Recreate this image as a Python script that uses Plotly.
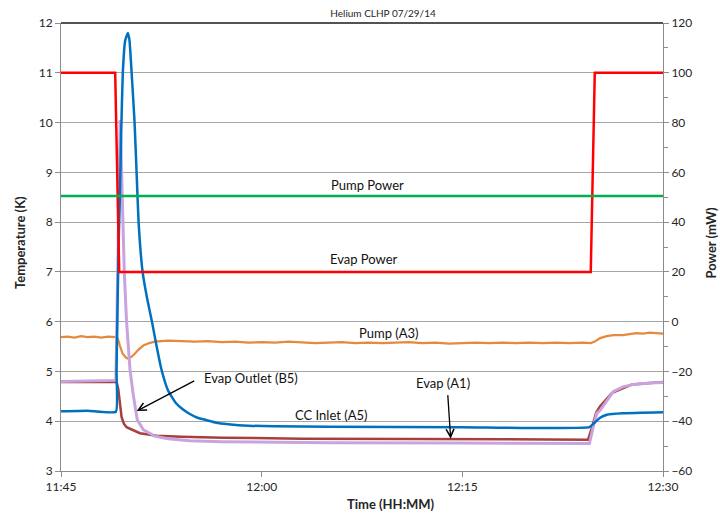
import pandas as pd
import plotly.graph_objects as go

# Run start; every time array below is in minutes after this moment
BASE = pd.Timestamp("2014-07-29 11:45:00")

# Heater powers (mW, right axis)
evap_power_t = [0, 4.05, 4.35, 39.6, 39.9, 45]
evap_power_v = [100, 100, 20, 20, 100, 100]
pump_power_t = [0, 45]
pump_power_v = [50.5, 50.5]

# Temperatures (K, left axis)
cc_inlet_t = [0, 2, 4.1, 4.15, 4.3, 4.4, 4.5, 4.62, 4.8, 5.0, 5.12, 5.28, 5.5, 5.65,
              5.8, 6.1, 6.45, 6.8, 7.15, 7.5, 8.0, 8.6, 9.1, 9.6, 10.2, 10.9, 11.6,
              12.5, 14, 16, 20, 30, 39.5, 39.8, 40.3, 40.8, 42, 45]
cc_inlet_v = [4.2, 4.21, 4.19, 5.0, 7.5, 8.5, 9.8, 11.0, 11.65, 11.8, 11.65, 11.0, 10.0, 9.0,
              8.0, 7.0, 6.45, 6.0, 5.5, 5.05, 4.62, 4.36, 4.24, 4.15, 4.07, 4.02, 3.97,
              3.94, 3.91, 3.9, 3.89, 3.88, 3.88, 3.95, 4.07, 4.13, 4.16, 4.18]

evap_outlet_t = [0, 4.15, 4.28, 4.4, 4.53, 4.7, 4.9, 5.9, 7.15, 9, 12.1, 18, 24.6,
                 39.4, 39.7, 40.0, 40.3, 41.2, 42.7, 45]
evap_outlet_v = [4.79, 4.79, 4.65, 4.3, 4.08, 3.95, 3.88, 3.76, 3.71, 3.69, 3.67, 3.65, 3.64,
                 3.63, 3.88, 4.17, 4.3, 4.57, 4.74, 4.79]

evap_t = [0, 4.1, 4.15, 4.25, 4.35, 4.42, 4.5, 4.6, 4.73, 4.9, 5.16, 5.4, 5.7, 6.15,
          7, 8, 9.6, 12, 20, 30, 39.5, 39.8, 40.05, 40.3, 40.8, 41.3, 42, 42.8, 44, 45]
evap_v = [4.8, 4.82, 5.5, 7.5, 9.5, 10.05, 9.3, 8.0, 7.0, 6.0, 5.03, 4.53, 4.03, 3.83,
          3.7, 3.65, 3.61, 3.59, 3.57, 3.56, 3.55, 3.9, 4.16, 4.22, 4.42, 4.6, 4.69, 4.74, 4.77, 4.78]

pump_t = [0, 0.5, 1, 1.5, 2, 2.5, 3, 3.5, 4.1,
          4.25, 4.4, 4.6, 4.85, 5.0, 5.2, 5.5, 5.8, 6.15, 6.6,
          7, 7.5, 8,
          9, 10, 11, 12, 13, 14, 15, 16, 17, 18, 19, 20, 21, 22, 23, 24, 25, 26, 27, 28,
          29, 30, 31, 32, 33, 34, 35, 36, 37, 38, 39,
          39.6, 39.9, 40.3, 40.8, 41.3, 42, 42.5, 43, 43.5, 44, 44.5, 45]
pump_v = [5.69, 5.70, 5.68, 5.71, 5.69, 5.70, 5.68, 5.70, 5.69,
          5.66, 5.52, 5.36, 5.28, 5.26, 5.28, 5.35, 5.44, 5.52, 5.57,
          5.60, 5.61, 5.62,
          5.61, 5.60, 5.61, 5.59, 5.60, 5.58, 5.59, 5.58, 5.60, 5.58,
          5.57, 5.58, 5.59, 5.57, 5.58, 5.57, 5.58, 5.59, 5.57, 5.58,
          5.56, 5.57, 5.58, 5.57, 5.58, 5.57, 5.58, 5.57, 5.58, 5.57, 5.58,
          5.57, 5.60, 5.67, 5.71, 5.73, 5.73, 5.75, 5.77, 5.76, 5.78, 5.77, 5.76]

x_ticks_min = [0, 15, 30, 45]


def clock(mins):
    return [BASE + pd.Timedelta(minutes=m) for m in mins]


FONT = "Lato, 'Open Sans', sans-serif"
TXT = "#262626"

fig = go.Figure()

fig.add_trace(go.Scatter(x=clock(evap_power_t), y=evap_power_v, yaxis="y2", mode="lines",
                         line=dict(color="#FF0000", width=2.5), name="Evap Power"))
fig.add_trace(go.Scatter(x=clock(pump_power_t), y=pump_power_v, yaxis="y2", mode="lines",
                         line=dict(color="#00B050", width=2.5), name="Pump Power"))
fig.add_trace(go.Scatter(x=clock(pump_t), y=pump_v, mode="lines",
                         line=dict(color="#E38A3C", width=2.2), name="Pump (A3)"))
fig.add_trace(go.Scatter(x=clock(evap_outlet_t), y=evap_outlet_v, mode="lines",
                         line=dict(color="#A5403C", width=2.5), name="Evap Outlet (B5)"))
fig.add_trace(go.Scatter(x=clock(evap_t), y=evap_v, mode="lines",
                         line=dict(color="#C9A3DF", width=3), name="Evap (A1)"))
fig.add_trace(go.Scatter(x=clock(cc_inlet_t), y=cc_inlet_v, mode="lines", line_shape="spline",
                         line=dict(color="#0070C0", width=2.5, smoothing=0.4), name="CC Inlet (A5)"))

tick_vals = clock(x_ticks_min)

fig.update_layout(
    width=720, height=514,
    margin=dict(l=61, r=57, t=23, b=43),
    paper_bgcolor="white", plot_bgcolor="white",
    showlegend=False,
    font=dict(family=FONT, size=12, color=TXT),
    title=dict(text="Helium CLHP 07/29/14", x=383 / 720, xanchor="center",
               y=1 - 13.5 / 514, yanchor="middle",
               font=dict(family=FONT, size=10, color=TXT)),
    xaxis=dict(type="date", range=[tick_vals[0], tick_vals[-1]],
               tickvals=tick_vals, tickformat="%H:%M",
               showgrid=False, zeroline=False,
               showline=True, linecolor="#8C8C8C", linewidth=1,
               ticks="outside", ticklen=5, tickcolor="#8C8C8C",
               tickfont=dict(size=12)),
    yaxis=dict(range=[3, 12], dtick=1, tick0=3,
               showgrid=True, gridcolor="#A6A6A6", gridwidth=1, zeroline=False,
               showline=True, linecolor="#8C8C8C", linewidth=1,
               ticks="outside", ticklen=5, tickcolor="#8C8C8C",
               tickfont=dict(size=12)),
    yaxis2=dict(range=[-60, 120], dtick=20, tick0=-60, overlaying="y", side="right",
                showgrid=False, zeroline=False,
                showline=True, linecolor="#8C8C8C", linewidth=1,
                ticks="outside", ticklen=5, tickcolor="#8C8C8C",
                minor=dict(dtick=10, ticks="outside", ticklen=4, tickcolor="#8C8C8C"),
                tickfont=dict(size=12)),
)

# Dark frame edge along the top of the plot area
fig.add_shape(type="line", xref="paper", yref="paper", x0=0, x1=1, y0=1, y1=1,
              line=dict(color="#1A1A1A", width=1.5))

# Axis titles
fig.add_annotation(text="<b>Temperature (K)</b>", xref="paper", yref="paper",
                   x=-0.068, y=0.509, xanchor="center", yanchor="middle",
                   textangle=-90, showarrow=False, font=dict(size=13, color=TXT))
fig.add_annotation(text="<b>Power (mW)</b>", xref="paper", yref="paper",
                   x=1.079, y=0.509, xanchor="center", yanchor="middle",
                   textangle=-90, showarrow=False, font=dict(size=13, color=TXT))
fig.add_annotation(text="<b>Time (HH:MM)</b>", xref="paper", yref="paper",
                   x=0.548, y=-0.0744, xanchor="center", yanchor="middle",
                   showarrow=False, font=dict(size=13, color=TXT))

# Series labels
labels = [
    ("Pump Power", 22.93, 8.747),
    ("Evap Power", 22.65, 7.253),
    ("Pump (A3)", 24.52, 5.764),
    ("Evap Outlet (B5)", 14.2, 4.87),
    ("CC Inlet (A5)", 20.18, 4.12),
    ("Evap (A1)", 28.55, 4.77),
]
for text, m, k in labels:
    fig.add_annotation(text=text, x=clock([m])[0], y=k, xref="x", yref="y",
                       xanchor="center", yanchor="middle",
                       showarrow=False, font=dict(size=13, color="#111111"))

# Pointer arrows
arrows = [(5.66, 4.205, 59, -31), (29.13, 3.65, -3, -45)]
for m, k, dx, dy in arrows:
    fig.add_annotation(text="", x=clock([m])[0], y=k, xref="x", yref="y",
                       showarrow=True, arrowhead=5, arrowsize=1.2, arrowwidth=1.3,
                       arrowcolor="#000000", ax=dx, ay=dy, standoff=0)

fig.write_html("out.html")
